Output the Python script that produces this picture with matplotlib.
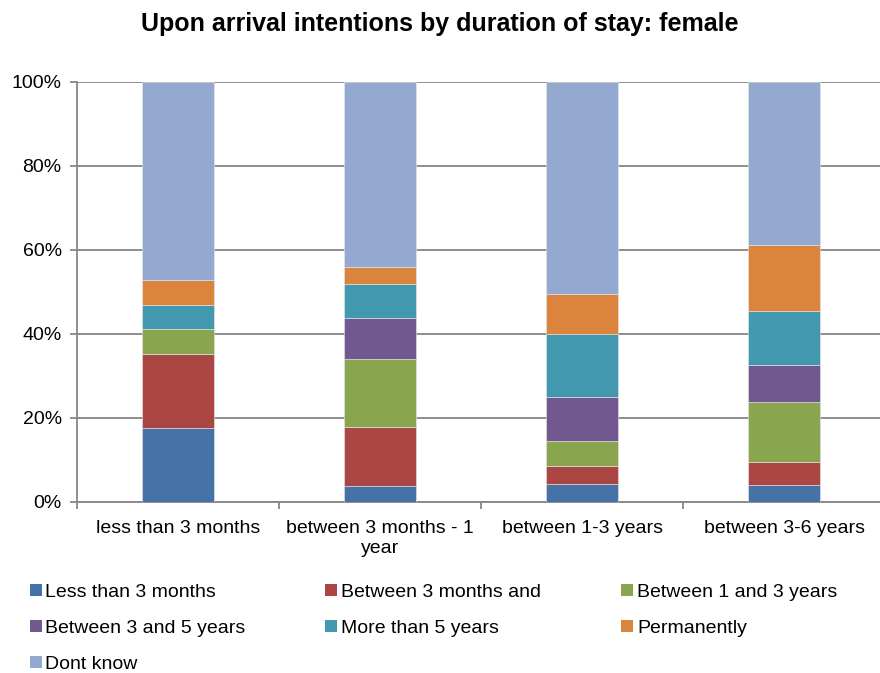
import matplotlib
matplotlib.use("Agg")
import matplotlib.pyplot as plt
import numpy as np
from matplotlib.patches import Patch

plt.rcParams['font.family'] = ['Liberation Sans', 'DejaVu Sans']

# categories on the x axis
categories = ['less than 3 months', 'between 3 months - 1\nyear',
              'between 1-3 years', 'between 3-6 years']

# stacked series (percent of each bar)
series_names = ['Less than 3 months', 'Between 3 months and', 'Between 1 and 3 years',
                'Between 3 and 5 years', 'More than 5 years', 'Permanently', 'Dont know']
less_3m = [17.7, 3.9, 4.4, 4.1]
between_3m_1y = [17.6, 14.0, 4.2, 5.4]
between_1_3y = [5.8, 16.1, 6.0, 14.3]
between_3_5y = [0.0, 9.9, 10.3, 8.9]
more_5y = [5.9, 8.1, 15.1, 12.7]
permanently = [5.9, 4.0, 9.6, 15.8]
dont_know = [47.1, 44.0, 50.4, 38.8]

colors = ['#4572A7', '#AA4643', '#89A54E', '#71588F', '#4198AF', '#DB843D', '#93A9CF']

fig = plt.figure(figsize=(8.8, 6.73), dpi=100)
ax = fig.add_axes([77 / 880, 1 - 502 / 673, 808 / 880, 420 / 673])

x = np.arange(len(categories))
bottom = np.zeros(len(categories))
all_series = [less_3m, between_3m_1y, between_1_3y, between_3_5y, more_5y, permanently, dont_know]
for vals, col in zip(all_series, colors):
    ax.bar(x, vals, width=0.357, bottom=bottom, color=col, edgecolor='#e8e8e8',
           linewidth=0.4, zorder=3)
    bottom += np.array(vals)

ax.set_xlim(-0.5, len(categories) - 0.5)
ax.set_ylim(0, 100)
ax.set_yticks(np.arange(0, 101, 20))
ax.set_yticklabels([f'{v}%' for v in range(0, 101, 20)], fontsize=14)
ax.yaxis.grid(True, color='#868686', linewidth=1.3, zorder=0)
ax.tick_params(axis='y', length=5, width=1.3, color='#868686', pad=6)

ax.set_xticks(x)
ax.set_xticklabels(categories, fontsize=14, linespacing=1.2)
ax.set_xticks(np.arange(-0.5, len(categories)), minor=True)
ax.tick_params(axis='x', which='major', length=0, pad=13)
ax.tick_params(axis='x', which='minor', length=5, width=1.3, color='#868686')

for s in ['top', 'right']:
    ax.spines[s].set_visible(False)
for s in ['left', 'bottom']:
    ax.spines[s].set_color('#868686')
    ax.spines[s].set_linewidth(1.3)

fig.text(0.5, 1 - 24 / 673, 'Upon arrival intentions by duration of stay: female',
         ha='center', va='center', fontsize=18, fontweight='bold')

handles = [Patch(facecolor=c, edgecolor='none') for c in colors]
order = [0, 3, 6, 1, 4, 2, 5]
fig.legend([handles[i] for i in order], [series_names[i] for i in order], ncol=3,
           loc='upper left', bbox_to_anchor=(12 / 880, 1 - 566 / 673), frameon=False,
           fontsize=14, handlelength=0.62, handleheight=0.62, handletextpad=0.2,
           columnspacing=4.1, labelspacing=0.97)

fig.savefig('out.png', dpi=100, facecolor='white')
